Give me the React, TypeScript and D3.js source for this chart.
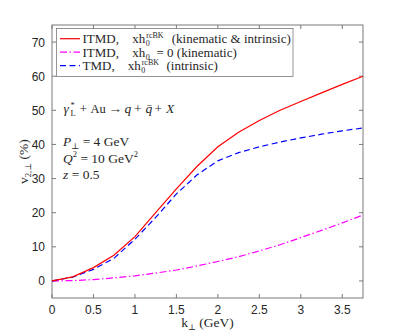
import * as d3 from 'd3';

const kPerp = [0, 0.25, 0.5, 0.75, 1.0, 1.25, 1.5, 1.75, 2.0, 2.25, 2.5, 2.75, 3.0, 3.25, 3.5, 3.75];
const itmdFull = [0, 1.2, 3.9, 7.6, 13, 20, 27, 33.6, 39.3, 43.6, 47, 50, 52.6, 55.1, 57.6, 60];
const itmdKin = [0, 0.1, 0.4, 0.9, 1.5, 2.3, 3.2, 4.4, 5.7, 7.1, 8.8, 10.6, 12.7, 14.8, 17, 19.3];
const tmdIntr = [0, 1.1, 3.4, 6.7, 12.2, 18.6, 25.5, 31.1, 35.2, 37.6, 39.3, 40.7, 41.9, 43, 44, 44.8];
const xTicks = [0, 0.5, 1, 1.5, 2, 2.5, 3, 3.5];
const yTicks = [0, 10, 20, 30, 40, 50, 60, 70];

const W = 402, H = 335;
const m = { left: 52, right: 39, top: 25, bottom: 37 };

const serif = "'Liberation Serif', 'DejaVu Serif', serif";
const sans = "'Liberation Sans', Arial, sans-serif";
const ink = '#262626';

export default function App() {
  const x = d3.scaleLinear().domain([0, 3.75]).range([m.left, W - m.right]);
  const y = d3.scaleLinear().domain([-5, 75]).range([H - m.bottom, m.top]);
  const line = d3.line<number>().x((_, i) => x(kPerp[i])).y(d => y(d));

  const series = [
    { values: itmdKin, color: '#ff00ff', dash: '7,2.5,1.5,2.5' },
    { values: tmdIntr, color: '#0000ff', dash: '6,3.5' },
    { values: itmdFull, color: '#ff0000', dash: null },
  ];

  const x0 = x(0), x1 = x(3.75), y0 = y(75), y1 = y(-5);
  const tl = 4;

  const legend = [
    { color: '#ff0000', dash: null, label: 'ITMD,', xh: 132.3, kind: 'rc', tail: '(kinematic & intrinsic)', tx: 171.7 },
    { color: '#ff00ff', dash: '7,2.5,1.5,2.5', label: 'ITMD,', xh: 132.3, kind: 'zero', tail: '= 0 (kinematic)', tx: 156.5 },
    { color: '#0000ff', dash: '6,3.5', label: 'TMD,', xh: 127.7, kind: 'rc', tail: '(intrinsic)', tx: 166.5 },
  ];

  return (
    <svg width={W} height={H} style={{ position: 'absolute', left: 0, top: 0, whiteSpace: 'pre' }}>
      <rect width={W} height={H} fill="#fff" />
      {/* plot box */}
      <rect x={x0} y={y0} width={x1 - x0} height={y1 - y0} fill="none" stroke="#7a7a7a" strokeWidth={1} />
      {xTicks.map(t => (
        <g key={'x' + t}>
          <line x1={x(t)} x2={x(t)} y1={y1} y2={y1 - tl} stroke="#7a7a7a" />
          <line x1={x(t)} x2={x(t)} y1={y0} y2={y0 + tl} stroke="#7a7a7a" />
          <text x={x(t)} y={y1 + 16} textAnchor="middle" fontFamily={sans} fontSize={12} fill={ink}>{t}</text>
        </g>
      ))}
      {yTicks.map(t => (
        <g key={'y' + t}>
          <line x1={x0} x2={x0 + tl} y1={y(t)} y2={y(t)} stroke="#7a7a7a" />
          <line x1={x1} x2={x1 - tl} y1={y(t)} y2={y(t)} stroke="#7a7a7a" />
          <text x={x0 - 7} y={y(t) + 4.5} textAnchor="end" fontFamily={sans} fontSize={12} fill={ink}>{t}</text>
        </g>
      ))}
      {series.map((s, i) => (
        <path key={i} d={line(s.values) ?? ''} fill="none" stroke={s.color} strokeWidth={1.2}
          strokeDasharray={s.dash ?? undefined} />
      ))}
      {/* legend */}
      <rect x={56.5} y={28.5} width={236.5} height={48} fill="#fff" stroke="#7a7a7a" strokeWidth={0.8} />
      {legend.map((l, i) => {
        const ly = 38.7 + i * 13.5;
        return (
          <g key={i} fontFamily={serif} fontSize={13} fill={ink}>
            <line x1={60} x2={80} y1={ly} y2={ly} stroke={l.color} strokeWidth={1.2} strokeDasharray={l.dash ?? undefined} />
            <text x={82.5} y={ly + 4.5}>{l.label}</text>
            <text x={l.xh} y={ly + 4.5}>xh</text>
            <text x={l.xh + 13.5} y={ly + 7.5} fontSize={8}>0</text>
            {l.kind === 'rc' && <text x={l.xh + 14} y={ly - 0.5} fontSize={8}>rcBK</text>}
            <text x={l.tx} y={ly + 4.5}>{l.tail}</text>
          </g>
        );
      })}
      {/* annotations */}
      <g fontFamily={serif} fontSize={13.5} fill={ink}>
        <text x={63.5} y={113} fontStyle="italic">γ</text>
        <text x={70.5} y={108} fontSize={8.5}>*</text>
        <text x={70.5} y={116} fontSize={8.5}>L</text>
        <text x={79.5} y={113}>+</text>
        <text x={90.5} y={113} fontSize={12.5}>Au</text>
        <text x={108.5} y={113}>→</text>
        <text x={124.5} y={113} fontStyle="italic">q</text>
        <text x={134} y={113}>+</text>
        <text x={145.5} y={113} fontStyle="italic">q̄</text>
        <text x={154.5} y={113}>+</text>
        <text x={166} y={113} fontStyle="italic">X</text>

        <text x={63} y={146}>
          <tspan fontStyle="italic">P</tspan>
          <tspan fontSize={8.5} dy={3}>⊥</tspan>
          <tspan dy={-3}>{' = 4 GeV'}</tspan>
        </text>
        <text x={63} y={162.5}>
          <tspan fontStyle="italic">Q</tspan>
          <tspan fontSize={8.5} dy={-5.5}>2</tspan>
          <tspan dy={5.5}>{' = 10 GeV'}</tspan>
          <tspan fontSize={8.5} dy={-5.5}>2</tspan>
        </text>
        <text x={63} y={179}>
          <tspan fontStyle="italic">z</tspan>
          <tspan>{' =  0.5'}</tspan>
        </text>
      </g>
      {/* axis labels */}
      <text transform={`translate(28, ${(y0 + y1) / 2}) rotate(-90)`} textAnchor="middle"
        fontFamily={serif} fontSize={13.5} fill={ink}>
        v<tspan fontSize={8.5} dy={3}>2,⊥</tspan>
        <tspan dy={-3}>{' (%)'}</tspan>
      </text>
      <text x={(x0 + x1) / 2} y={326.5} textAnchor="middle" fontFamily={serif} fontSize={13.5} fill={ink}>
        k<tspan fontSize={8.5} dy={3}>⊥</tspan>
        <tspan dy={-3}>{' (GeV)'}</tspan>
      </text>
    </svg>
  );
}
